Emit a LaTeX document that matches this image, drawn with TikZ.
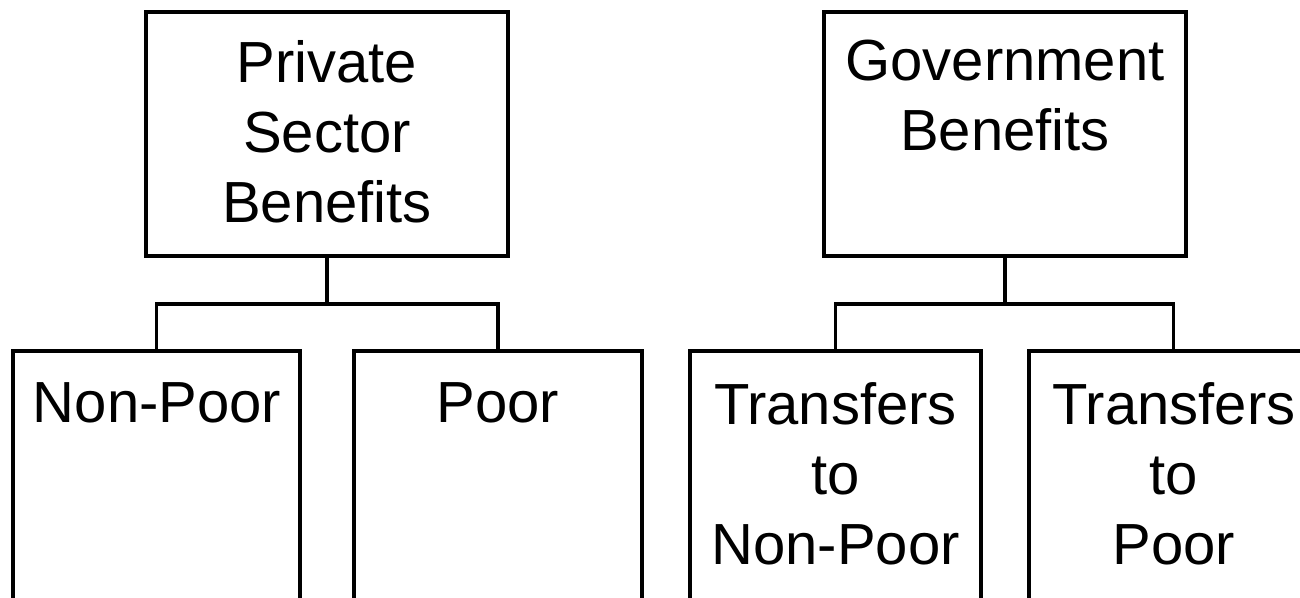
\documentclass[tikz,border=0pt]{standalone}
\usepackage{fontspec}
\setmainfont{Liberation Sans}
\begin{document}
\begin{tikzpicture}[x=1pt,y=-1pt,
  box/.style={draw=black, line width=4pt, inner sep=0pt, outer sep=0pt},
  conn/.style={draw=black, line width=3.3pt},
  lbl/.style={anchor=north, align=center, inner sep=0pt, font=\fontsize{58}{70}\selectfont}]
\useasboundingbox (0,0) rectangle (1300,597);
\clip (0,0) rectangle (1300,597);
\fill[white] (0,0) rectangle (1300,597);
% top boxes
\node[box, minimum width=361.5pt, minimum height=244pt] (ps) at (327,134) {};
\node[box, minimum width=362pt, minimum height=244pt] (gb) at (1005,134) {};
% child boxes
\node[box, minimum width=287.5pt, minimum height=300pt] (np) at (156.25,501) {};
\node[box, minimum width=288pt, minimum height=300pt] (po) at (498,501) {};
\node[box, minimum width=291pt, minimum height=300pt] (tn) at (835.5,501) {};
\node[box, minimum width=289pt, minimum height=300pt] (tp) at (1173.5,501) {};
% labels
\node[lbl] (pst) at (327,40) {Private\\Sector\\Benefits};
\node[lbl] (gbt) at (1005,40) {Government\\Benefits};
\node[lbl] (npt) at (157,382) {Non-Poor};
\node[lbl] (pot) at (498,382) {Poor};
\node[lbl] (tnt) at (835.5,382) {Transfers\\to\\Non-Poor};
\node[lbl] (tpt) at (1174,382) {Transfers\\to\\Poor};
% connectors
\draw[conn] (ps.south) -- ++(0,48) coordinate (pj);
\draw[conn] (pj) -| (np.north);
\draw[conn] (pj) -| (po.north);
\draw[conn] (gb.south) -- ++(0,48) coordinate (gj);
\draw[conn] (gj) -| (tn.north);
\draw[conn] (gj) -| (tp.north);
\end{tikzpicture}
\end{document}
